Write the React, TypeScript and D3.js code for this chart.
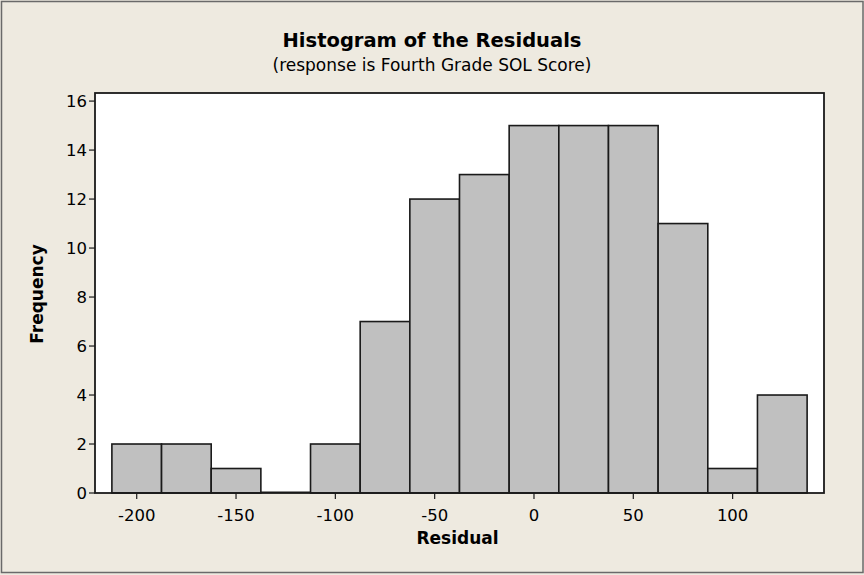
import React from "react";
import * as d3 from "d3";

const binCenters = [-200, -175, -150, -125, -100, -75, -50, -25, 0, 25, 50, 75, 100, 125];
const frequencies = [2, 2, 1, 0, 2, 7, 12, 13, 15, 15, 15, 11, 1, 4];
const binWidth = 25;
const xTicks = [-200, -150, -100, -50, 0, 50, 100];
const yTicks = [0, 2, 4, 6, 8, 10, 12, 14, 16];
const title = "Histogram of the Residuals";
const subtitle = "(response is Fourth Grade SOL Score)";
const xLabel = "Residual";
const yLabel = "Frequency";

const W = 864;
const H = 575;
const plot = { left: 95, top: 93, right: 824, bottom: 493 };
const FONT = "'DejaVu Sans', Verdana, sans-serif";

export default function App() {
  const x = d3.scaleLinear().domain([-221, 146]).range([plot.left, plot.right]);
  const y = d3.scaleLinear().domain([0, 16.33]).range([plot.bottom, plot.top]);

  return (
    <svg
      width={W}
      height={H}
      style={{ position: "absolute", left: 0, top: 0, display: "block" }}
      fontFamily={FONT}
    >
      <rect x={0} y={0} width={W} height={H} fill="#EEEAE0" />
      <rect x={1.5} y={1.5} width={861.5} height={571} fill="none" stroke="#6a6a6a" strokeWidth={1.5} />

      <text x={432} y={47} textAnchor="middle" fontWeight="bold" fontSize={19.5} fill="#000">
        {title}
      </text>
      <text x={432} y={71} textAnchor="middle" fontSize={17} fill="#000">
        {subtitle}
      </text>

      <rect
        x={plot.left}
        y={plot.top}
        width={plot.right - plot.left}
        height={plot.bottom - plot.top}
        fill="#FFFFFF"
      />

      {binCenters.map((c, i) =>
        frequencies[i] > 0 ? (
          <rect
            key={i}
            x={x(c - binWidth / 2)}
            y={y(frequencies[i])}
            width={x(c + binWidth / 2) - x(c - binWidth / 2)}
            height={y(0) - y(frequencies[i])}
            fill="#C0C0C0"
            stroke="#1a1a1a"
            strokeWidth={1.6}
          />
        ) : (
          <line
            key={i}
            x1={x(c - binWidth / 2)}
            x2={x(c + binWidth / 2)}
            y1={y(0) - 0.8}
            y2={y(0) - 0.8}
            stroke="#1a1a1a"
            strokeWidth={1.6}
          />
        )
      )}

      <rect
        x={plot.left}
        y={plot.top}
        width={plot.right - plot.left}
        height={plot.bottom - plot.top}
        fill="none"
        stroke="#1a1a1a"
        strokeWidth={1.8}
      />

      {yTicks.map((t) => (
        <g key={"y" + t}>
          <line x1={plot.left - 6} x2={plot.left} y1={y(t)} y2={y(t)} stroke="#1a1a1a" strokeWidth={1.2} />
          <text x={plot.left - 8} y={y(t)} dy="0.36em" textAnchor="end" fontSize={16.5} fill="#000">
            {t}
          </text>
        </g>
      ))}

      {xTicks.map((t) => (
        <g key={"x" + t}>
          <line x1={x(t)} x2={x(t)} y1={plot.bottom} y2={plot.bottom + 6} stroke="#1a1a1a" strokeWidth={1.2} />
          <text x={x(t)} y={521} textAnchor="middle" fontSize={16.5} fill="#000">
            {t}
          </text>
        </g>
      ))}

      <text x={457.5} y={544} textAnchor="middle" fontWeight="bold" fontSize={17} fill="#000">
        {xLabel}
      </text>
      <text
        transform={`translate(43, ${294}) rotate(-90)`}
        textAnchor="middle"
        fontWeight="bold"
        fontSize={17}
        fill="#000"
      >
        {yLabel}
      </text>
    </svg>
  );
}
